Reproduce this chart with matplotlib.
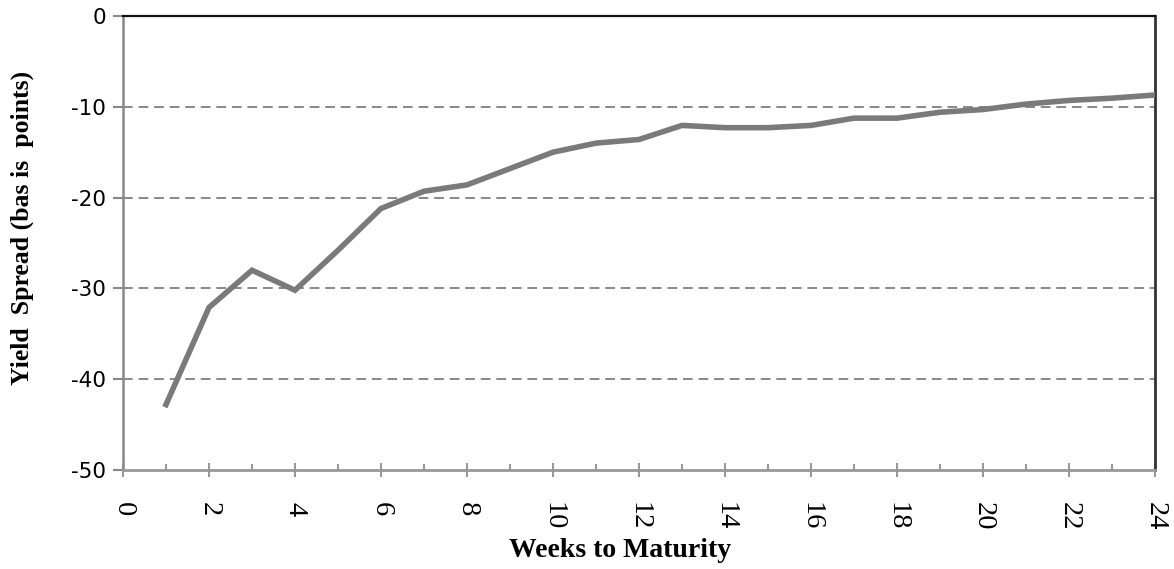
import matplotlib
matplotlib.use("Agg")
import matplotlib.pyplot as plt
from matplotlib.ticker import MultipleLocator

plt.rcParams["axes.unicode_minus"] = False

weeks = list(range(1, 25))
spread = [-42.8, -32.1, -28.0, -30.2, -25.8, -21.2, -19.3, -18.6, -16.8, -15.0,
          -14.0, -13.6, -12.05, -12.3, -12.3, -12.05, -11.25, -11.25, -10.6, -10.3,
          -9.7, -9.3, -9.05, -8.7]
x_ticks = list(range(0, 25, 2))
y_ticks = [0, -10, -20, -30, -40, -50]
x_label = "Weeks to Maturity"
y_label = "Yield  Spread (bas is  points)"

fig = plt.figure(figsize=(11.74, 5.69), dpi=100)
ax = fig.add_axes([123/1174, 1-470/569, (1155-123)/1174, (470-16)/569])

for v in [-10, -20, -30, -40]:
    ax.axhline(v, color="#888888", lw=1.4, ls=(0, (5, 3)), zorder=1)

ax.plot(weeks, spread, color="#7a7a7a", lw=4.0, solid_joinstyle="miter", zorder=3)

ax.set_xlim(0, 24)
ax.set_ylim(-50, 0)
ax.set_xticks(x_ticks)
ax.xaxis.set_minor_locator(MultipleLocator(1))
ax.set_yticks(y_ticks)

ax.spines["top"].set_color("#111111")
ax.spines["top"].set_linewidth(1.6)
ax.spines["right"].set_color("#333333")
ax.spines["right"].set_linewidth(2)
ax.spines["left"].set_color("#888888")
ax.spines["left"].set_linewidth(1.8)
ax.spines["bottom"].set_color("#999999")
ax.spines["bottom"].set_linewidth(2)

ax.tick_params(axis="x", which="major", direction="inout", length=10, width=1.5,
               color="#999999", pad=18)
ax.tick_params(axis="x", which="minor", direction="in", length=4.5, width=1.5,
               color="#999999")
ax.tick_params(axis="y", which="major", direction="out", length=7, width=1.5,
               color="#888888", pad=5)

for lab in ax.get_xticklabels():
    lab.set_rotation(-90)
    lab.set_fontfamily("Liberation Serif")
    lab.set_fontsize(20.5)
    lab.set_va("top")
    lab.set_ha("center")
for lab in ax.get_yticklabels():
    lab.set_fontfamily("DejaVu Sans")
    lab.set_fontsize(15.5)

fig.text(620/1174, 1-557/569, x_label, ha="center", va="baseline",
         fontfamily="Liberation Serif", fontweight="bold", fontsize=20)
fig.text(22/1174, 1-228/569, y_label, rotation=90, ha="center", va="center",
         fontfamily="Liberation Serif", fontweight="bold", fontsize=18.5)

fig.savefig("out.png", dpi=100)
